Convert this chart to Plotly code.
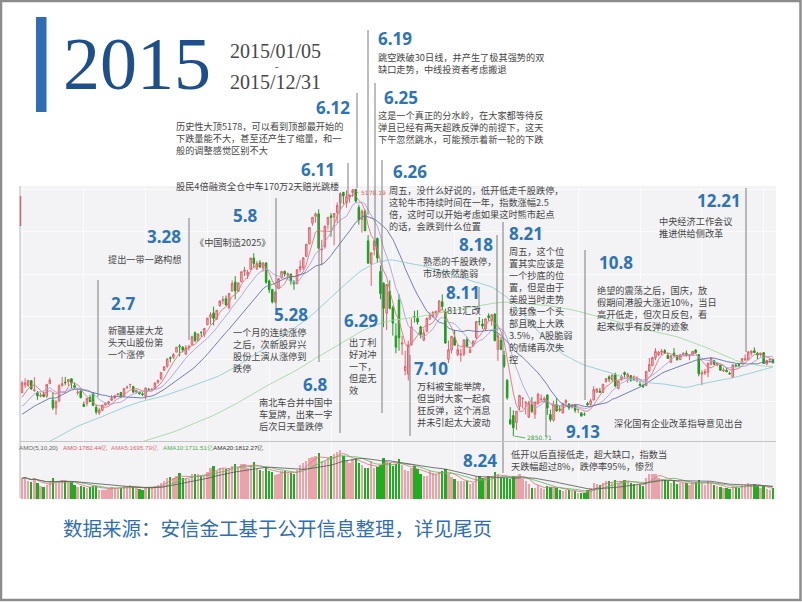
import plotly.graph_objects as go
import pandas as pd

# ---------------- DATA (Shanghai Composite 2015, daily, estimated) ----------------
OPEN = [
 3258.63, 3330.80, 3326.65, 3371.96, 3276.97, 3258.21, 3223.54, 3242.34, 3224.07, 3343.60, 3189.73, 3114.56, 3182.11, 3327.33, 3357.10, 3359.44, 3389.85, 3325.72, 3258.09, 3273.81,
 3148.14, 3156.09, 3212.82, 3254.01, 3120.09, 3066.86, 3090.96, 3141.85, 3156.22, 3186.81, 3209.16, 3238.13, 3259.76, 3228.33, 3307.66,
 3332.72, 3317.70, 3264.18, 3264.08, 3248.03, 3224.33, 3289.10, 3287.15, 3290.72, 3357.64, 3391.16, 3469.66, 3506.31, 3588.52, 3590.72, 3640.21, 3697.53, 3687.37, 3620.07, 3680.50, 3710.62, 3822.67,
 3748.34, 3827.65, 3803.96, 3899.35, 3966.48, 4009.96, 3950.06, 4077.30, 4125.04, 4143.28, 4058.60, 4214.81, 4301.35, 4212.19, 4304.28, 4401.27, 4370.97, 4420.20, 4527.59, 4426.38, 4483.85,
 4432.60, 4479.83, 4311.30, 4229.89, 4112.52, 4242.45, 4342.25, 4401.52, 4364.55, 4375.98, 4298.26, 4283.86, 4421.88, 4434.01, 4542.27, 4661.18, 4854.85, 4920.30, 4943.74, 4603.48,
 4633.10, 4844.70, 4924.80, 4912.95, 4956.90, 5045.69, 5145.98, 5049.20, 5101.44, 5143.34, 5174.42, 5004.13, 4890.47, 4967.34, 4689.93, 4471.61, 4604.95, 4711.76, 4399.93, 4289.77, 4006.75,
 4214.15, 4058.88, 3793.60, 4132.61, 3716.38, 3467.38, 3432.45, 3707.46, 3976.79, 3959.11, 3877.38, 3752.65, 3834.38, 3952.40, 3978.86, 4002.17, 4019.73, 4114.38, 4026.14, 3573.14, 3659.59, 3776.22, 3616.94,
 3614.80, 3621.86, 3756.86, 3635.71, 3699.47, 3776.56, 3928.03, 3905.66, 3859.01, 3982.81, 3943.16, 3999.13, 3666.34, 3752.02, 3609.96, 3373.48, 3004.17, 3042.93, 2978.03, 3125.25, 3203.88,
 3157.65, 3027.68, 3149.38, 3054.44, 3161.32, 3190.55, 3189.48, 3237.46, 3052.84, 2998.46, 3146.20, 3102.92, 3067.41, 3161.68, 3151.00, 3122.72, 3143.76, 3097.28, 3068.37, 3052.84,
 3156.08, 3147.32, 3188.42, 3262.44, 3273.31, 3259.68, 3365.60, 3407.57, 3377.58, 3431.68, 3298.63, 3387.96, 3448.12, 3409.21, 3420.09, 3387.39, 3368.97,
 3337.56, 3325.62, 3325.57, 3462.64, 3514.60, 3588.50, 3614.76, 3635.91, 3654.49, 3609.00, 3543.26, 3631.81, 3607.50, 3569.75, 3616.06, 3630.87, 3602.89, 3614.05, 3659.57, 3616.54, 3433.81,
 3442.44, 3450.28, 3525.73, 3558.15, 3517.71, 3518.65, 3462.58, 3469.13, 3441.60, 3403.51, 3518.40, 3522.97, 3533.63, 3564.66, 3568.58, 3631.31, 3653.28, 3631.50, 3614.05, 3635.77, 3528.40, 3566.73, 3570.47,
]
HIGH = [
 3369.28, 3394.22, 3374.90, 3373.41, 3404.83, 3275.19, 3259.39, 3268.48, 3336.46, 3400.18, 3262.21, 3190.25, 3337.00, 3406.79, 3406.79, 3384.80, 3390.22, 3354.71, 3286.30, 3288.50,
 3174.97, 3209.93, 3238.95, 3260.34, 3143.10, 3116.39, 3142.30, 3166.92, 3181.77, 3237.16, 3237.25, 3253.20, 3259.76, 3300.11, 3324.55,
 3336.76, 3317.70, 3286.59, 3266.93, 3263.00, 3307.50, 3303.46, 3303.49, 3355.54, 3381.98, 3449.31, 3503.13, 3577.66, 3600.68, 3632.34, 3688.25, 3715.87, 3697.56, 3707.32, 3709.99, 3795.94, 3835.57,
 3817.08, 3835.15, 3864.71, 3961.38, 4016.85, 4069.29, 4034.88, 4128.07, 4168.35, 4173.42, 4195.22, 4317.05, 4356.00, 4293.62, 4400.20, 4444.41, 4416.42, 4529.60, 4572.39, 4499.98, 4507.84,
 4488.53, 4489.73, 4323.82, 4236.56, 4213.13, 4333.58, 4402.16, 4409.54, 4391.43, 4380.00, 4319.62, 4417.62, 4505.80, 4529.42, 4658.27, 4814.67, 4911.16, 4958.16, 4986.50, 4698.19,
 4829.50, 4910.53, 4951.17, 4947.10, 5051.63, 5146.99, 5147.45, 5164.82, 5122.46, 5178.19, 5176.79, 5029.68, 4985.89, 4983.64, 4744.08, 4577.94, 4691.77, 4720.74, 4456.90, 4297.47, 4279.92,
 4317.05, 4080.14, 3913.78, 4184.45, 3794.73, 3652.45, 3748.48, 3959.22, 4030.20, 4035.43, 3888.76, 3862.27, 3969.46, 4013.00, 4024.47, 4029.53, 4127.97, 4184.45, 4051.24, 3750.18, 3792.96, 3851.10, 3710.57,
 3668.98, 3757.06, 3782.35, 3693.64, 3749.82, 3929.83, 3970.34, 3952.99, 3955.09, 4006.34, 3994.54, 4006.34, 3811.75, 3783.55, 3652.84, 3388.36, 3122.12, 3092.10, 3085.42, 3237.66, 3214.63,
 3180.87, 3182.02, 3217.34, 3174.71, 3256.74, 3243.28, 3223.76, 3239.67, 3099.33, 3182.93, 3207.53, 3137.60, 3158.11, 3196.43, 3160.19, 3152.35, 3151.60, 3102.61, 3069.61, 3073.35,
 3172.30, 3200.84, 3318.71, 3298.62, 3303.38, 3338.57, 3394.19, 3421.53, 3425.97, 3447.27, 3369.88, 3429.47, 3457.95, 3447.14, 3421.24, 3419.71, 3411.59,
 3370.76, 3344.91, 3459.64, 3585.66, 3596.38, 3678.27, 3648.42, 3670.47, 3669.20, 3636.36, 3607.62, 3678.27, 3615.94, 3617.26, 3640.54, 3654.75, 3616.48, 3648.37, 3668.38, 3621.90, 3470.38,
 3483.41, 3538.85, 3591.73, 3568.97, 3543.84, 3518.65, 3495.70, 3495.40, 3456.53, 3521.78, 3529.96, 3538.69, 3583.41, 3618.64, 3651.06, 3652.63, 3684.57, 3640.22, 3632.07, 3641.59, 3564.17, 3573.68, 3580.60,
]
LOW = [
 3253.88, 3303.18, 3312.21, 3285.10, 3267.51, 3191.58, 3214.41, 3214.88, 3207.55, 3340.73, 3095.07, 3049.11, 3166.47, 3313.79, 3327.29, 3321.56, 3297.88, 3294.89, 3234.24, 3209.19,
 3122.57, 3129.96, 3170.47, 3136.25, 3052.94, 3049.11, 3084.25, 3137.41, 3141.13, 3181.36, 3196.83, 3232.25, 3206.38, 3221.91, 3291.89,
 3298.67, 3260.43, 3250.48, 3238.99, 3226.16, 3193.99, 3277.71, 3272.46, 3286.40, 3341.08, 3377.14, 3460.91, 3493.55, 3544.72, 3573.88, 3640.21, 3600.19, 3637.69, 3617.12, 3656.69, 3710.62, 3733.98,
 3742.21, 3784.01, 3780.15, 3892.70, 3900.08, 3891.65, 3950.06, 4068.68, 4091.04, 4080.19, 4043.86, 4214.81, 4137.91, 4209.79, 4299.11, 4358.28, 4330.46, 4419.60, 4432.90, 4413.60, 4439.42,
 4399.39, 4284.82, 4197.06, 4099.54, 4099.17, 4237.45, 4331.36, 4351.84, 4334.04, 4276.30, 4227.97, 4283.86, 4390.67, 4415.09, 4542.27, 4656.82, 4831.37, 4861.35, 4614.24, 4459.12,
 4615.04, 4797.55, 4727.32, 4647.79, 4856.31, 4992.38, 5034.63, 5001.46, 5050.76, 5103.40, 5048.74, 4842.10, 4767.14, 4780.73, 4476.50, 4264.77, 4552.63, 4483.15, 4139.53, 3875.05, 3847.88,
 4043.13, 3795.25, 3629.56, 3653.04, 3611.72, 3421.53, 3373.54, 3707.46, 3919.20, 3900.51, 3769.89, 3743.75, 3827.88, 3943.56, 3966.48, 3963.55, 4013.80, 4035.99, 3720.38, 3537.36, 3628.64, 3704.24, 3600.59,
 3549.14, 3602.59, 3685.49, 3632.00, 3694.19, 3765.56, 3891.40, 3858.75, 3839.35, 3936.41, 3889.42, 3743.37, 3558.38, 3663.77, 3490.54, 3191.88, 2952.84, 2850.71, 2906.44, 3094.04, 3109.34,
 3053.76, 3019.14, 3066.30, 3011.76, 3140.74, 3178.84, 3163.46, 3049.23, 2983.92, 2985.11, 3079.55, 3077.67, 3062.63, 3138.40, 3095.07, 3109.04, 3069.72, 3065.37, 3033.40, 3039.74,
 3134.12, 3134.68, 3188.42, 3261.26, 3255.74, 3254.80, 3350.06, 3357.19, 3364.63, 3313.42, 3289.18, 3369.87, 3394.39, 3351.39, 3360.97, 3368.46, 3357.36,
 3320.54, 3302.37, 3322.28, 3453.37, 3508.79, 3564.57, 3602.45, 3613.40, 3624.24, 3576.63, 3543.26, 3601.82, 3560.43, 3566.86, 3604.48, 3598.87, 3563.71, 3607.52, 3629.86, 3412.43, 3327.81,
 3426.76, 3403.71, 3518.28, 3523.43, 3506.38, 3466.79, 3454.88, 3454.12, 3428.84, 3399.28, 3495.96, 3497.29, 3533.63, 3567.63, 3565.75, 3607.29, 3633.03, 3572.53, 3598.26, 3533.08, 3515.52, 3538.11, 3538.35,
]
CLOSE = [
 3350.52, 3351.45, 3373.95, 3293.46, 3285.41, 3229.32, 3235.30, 3222.44, 3336.45, 3376.50, 3116.35, 3173.05, 3323.61, 3343.34, 3351.76, 3383.18, 3352.96, 3305.74, 3262.30, 3210.36,
 3128.30, 3204.91, 3174.13, 3136.53, 3075.91, 3095.12, 3141.59, 3157.70, 3173.42, 3203.83, 3228.84, 3246.91, 3228.84, 3298.36, 3310.30,
 3336.28, 3263.05, 3279.53, 3248.48, 3241.19, 3302.41, 3286.07, 3290.90, 3349.32, 3372.91, 3449.30, 3502.85, 3577.30, 3582.27, 3617.32, 3687.73, 3691.41, 3660.73, 3682.09, 3691.10, 3786.57, 3747.90,
 3810.29, 3825.78, 3863.93, 3961.38, 3994.81, 3957.53, 4034.31, 4121.71, 4135.57, 4084.16, 4194.82, 4287.30, 4217.08, 4293.62, 4398.49, 4414.51, 4393.69, 4527.40, 4476.21, 4476.62, 4441.66,
 4480.46, 4298.71, 4229.27, 4112.21, 4205.92, 4333.58, 4401.22, 4375.76, 4378.31, 4308.69, 4283.49, 4417.55, 4446.29, 4529.42, 4657.60, 4813.80, 4910.90, 4941.71, 4620.27, 4611.74,
 4828.74, 4910.53, 4909.98, 4947.10, 5023.10, 5131.88, 5113.53, 5106.04, 5121.59, 5166.35, 5062.99, 4887.43, 4967.90, 4785.36, 4478.36, 4576.49, 4690.15, 4527.78, 4192.87, 4053.03, 4277.22,
 4053.70, 3912.77, 3686.92, 3775.91, 3727.13, 3507.19, 3709.33, 3877.80, 3970.39, 3924.49, 3805.70, 3823.18, 3957.35, 3992.11, 4017.67, 4026.04, 4123.92, 4070.91, 3725.56, 3663.00, 3789.17, 3705.77, 3663.73,
 3622.91, 3756.54, 3694.57, 3661.54, 3744.20, 3928.42, 3927.91, 3886.32, 3954.56, 3965.33, 3993.67, 3748.16, 3794.11, 3664.29, 3507.74, 3209.91, 2964.97, 2927.29, 3083.59, 3232.35, 3205.99,
 3166.62, 3160.17, 3080.42, 3170.45, 3243.09, 3197.89, 3200.23, 3114.80, 3005.17, 3152.26, 3086.06, 3097.92, 3156.54, 3185.62, 3115.89, 3142.69, 3092.35, 3100.76, 3038.14, 3052.78,
 3143.36, 3183.15, 3287.66, 3293.23, 3262.44, 3338.07, 3391.35, 3386.70, 3425.33, 3320.68, 3368.74, 3412.43, 3429.58, 3434.34, 3375.20, 3387.32, 3382.56,
 3325.08, 3316.70, 3459.64, 3522.82, 3590.03, 3646.88, 3640.49, 3650.25, 3632.90, 3580.84, 3606.96, 3604.80, 3568.47, 3617.06, 3630.50, 3610.31, 3616.11, 3647.93, 3635.55, 3436.30, 3445.40,
 3456.31, 3536.91, 3584.82, 3524.99, 3536.93, 3470.07, 3472.44, 3455.50, 3434.58, 3520.67, 3510.35, 3516.19, 3580.00, 3578.96, 3642.47, 3651.77, 3636.09, 3612.49, 3627.91, 3533.78, 3563.74, 3572.88, 3539.18,
]
# turnover (亿)
VOLUME = [
 3300, 3500, 2900, 2700, 3400, 2600, 2100, 1900, 2300, 2800, 3400, 2600, 2800, 3100, 2900, 2500, 2700, 2300, 1900, 2000,
 1900, 1800, 1900, 2000, 2000, 1500, 1500, 1500, 1600, 1900, 1800, 1600, 1700, 2000, 2100,
 2200, 2100, 1800, 1600, 1500, 1900, 1800, 1700, 2100, 2200, 2600, 2900, 3400, 3500, 3400, 3700, 4100, 3400, 3300, 3200, 3900, 3900,
 3900, 3700, 3700, 4300, 4900, 5300, 4500, 4900, 5000, 4800, 4900, 5300, 5600, 4900, 5600, 5500, 5000, 5400, 5900, 4900, 4600,
 4500, 5100, 4500, 4300, 3800, 4000, 4500, 4500, 4200, 4100, 3900, 4600, 5400, 5700, 6000, 6500, 6700, 6800, 7300, 6000,
 6100, 6600, 6800, 7100, 7500, 7800, 6800, 6200, 5700, 6300, 6500, 5700, 5400, 4900, 5000, 6000, 4900, 5100, 5400, 6600, 6000,
 5800, 5200, 5500, 6300, 5400, 4600, 4500, 4900, 5200, 4700, 3900, 3700, 3600, 4400, 4100, 3900, 4300, 4500, 4700, 3900, 3500, 3200, 2900,
 2800, 2800, 2900, 2400, 2500, 3700, 3600, 3300, 3400, 3600, 3700, 4300, 4000, 3300, 3300, 3400, 3200, 3600, 3700, 3900, 3200,
 2900, 2400, 1700, 1800, 2200, 1800, 1600, 2000, 1900, 1900, 1800, 1400, 1300, 1500, 1400, 1300, 1200, 1000, 950, 900,
 1500, 1700, 2500, 2400, 2200, 2500, 2900, 2800, 2600, 3100, 2600, 2800, 3000, 2900, 2600, 2400, 2300,
 2200, 2000, 3300, 3900, 4000, 3900, 3400, 3200, 3100, 2900, 2600, 2800, 2400, 2500, 2600, 2500, 2300, 2500, 2700, 3000, 2500,
 2200, 2800, 2600, 2200, 2000, 1900, 1800, 1700, 1600, 2100, 1900, 1800, 2200, 2300, 2500, 2400, 2400, 2000, 1800, 2000, 1600, 1500, 1782.44,
]
# late-2014 closes, only used to warm up the moving averages
HIST_CLOSE_2014 = [
 2050, 2060, 2060, 2059, 2067, 2039, 2040, 2047, 2066, 2071, 2058, 2055, 2056, 2059, 2075, 2083, 2127, 2160, 2177, 2178, 2182, 2201, 2202,
 2185, 2223, 2217, 2188, 2195, 2222, 2223, 2223, 2213, 2226, 2240, 2248, 2240, 2245, 2240, 2230, 2235, 2229, 2195, 2200, 2217,
 2235, 2266, 2288, 2306, 2326, 2334, 2325, 2344, 2332, 2291, 2316, 2329, 2307, 2290, 2343, 2345, 2350, 2347, 2357, 2363, 2364,
 2382, 2390, 2374, 2389, 2366, 2374, 2373, 2341, 2356, 2339, 2326, 2302, 2302, 2302, 2330, 2373, 2391, 2420,
 2430, 2419, 2425, 2419, 2418, 2474, 2469, 2494, 2485, 2478, 2474, 2454, 2450, 2452, 2486, 2532, 2567, 2604, 2630, 2683,
 2680, 2763, 2779, 2899, 2938, 3020, 2856, 2940, 2925, 2938, 2953, 3021, 3061, 3108, 3128, 3032, 3034, 2973, 3072, 3157, 3168, 3166, 3234,
]
MA_PERIODS = [5, 10, 20, 60, 120]
AMA_PERIODS = [5, 10, 20]
VOL_LEGEND = ["AMO(5,10,20)", "AMO:1782.44亿", "AMA5:1695.79亿", "AMA10:1711.51亿", "AMA20:1812.27亿"]

TITLE = "2015"
DATE_FROM = "2015/01/05"
DATE_TO = "2015/12/31"
SOURCE = "数据来源：安信金工基于公开信息整理，详见尾页"

# ---------------- styles / layout helpers ----------------
W, H = 802, 602
def px(x): return x / W
def py(y): return 1 - y / H

BODY = "Noto Sans CJK SC, Noto Sans, sans-serif"
TFONT = "Open Sans, Noto Sans, sans-serif"
SERIF = "Liberation Serif, DejaVu Serif, serif"
BLUE_T = "#2e74b5"
TXT = "#454545"
VLINE = "#7d7d7d"
BODY_SIZE = 9.2
LINE_GAP = 1.3 * BODY_SIZE

MA_COLORS = {5: "#e8707e", 10: "#ab9fda", 20: "#6470aa", 60: "#8ccfd7", 120: "#a3d9a3"}
AMA_COLORS = {5: "#e0707e", 10: "#5cb85c", 20: "#555555"}
LEG_COLORS = ["#666666", "#e05565", "#e06a7a", "#4cb04c", "#333333"]

n = len(CLOSE)
idx = list(range(n))

closes_all = pd.Series(HIST_CLOSE_2014 + CLOSE, dtype=float)
vol = pd.Series(VOLUME, dtype=float)

fig = go.Figure()

fig.add_trace(go.Candlestick(
    x=idx, open=OPEN, high=HIGH, low=LOW, close=CLOSE,
    increasing=dict(line=dict(color="#e0606a", width=1), fillcolor="#f6c4c8"),
    decreasing=dict(line=dict(color="#1c9e1c", width=1), fillcolor="#1c9e1c"),
    whiskerwidth=0, xaxis="x", yaxis="y", hoverinfo="skip"))

for p in MA_PERIODS:
    ma = closes_all.rolling(p).mean().iloc[-n:].tolist()
    fig.add_trace(go.Scatter(x=idx, y=ma, mode="lines", line=dict(color=MA_COLORS[p], width=0.9),
                             xaxis="x", yaxis="y", hoverinfo="skip"))

bar_colors = ["#eaa3a8" if c >= o else "#1fae1f" for o, c in zip(OPEN, CLOSE)]
fig.add_trace(go.Bar(x=idx, y=VOLUME, marker=dict(color=bar_colors, line=dict(width=0)), width=0.75,
                     xaxis="x2", yaxis="y2", hoverinfo="skip"))
for p in AMA_PERIODS:
    ama = vol.rolling(p, min_periods=1).mean().tolist()
    fig.add_trace(go.Scatter(x=idx, y=ama, mode="lines", line=dict(color=AMA_COLORS[p], width=0.8),
                             xaxis="x2", yaxis="y2", hoverinfo="skip"))

annotations = []
shapes = []

def label(text, x, y, size, color, family=BODY, anchor="left", bold=False, align="left"):
    annotations.append(dict(text=(f"<b>{text}</b>" if bold else text), x=px(x), y=py(y),
                            xref="paper", yref="paper", xanchor=anchor, yanchor="middle", align=align,
                            showarrow=False, borderpad=0, font=dict(size=size, color=color, family=family)))

def vline(x, y0, y1, color=VLINE, width=1):
    shapes.append(dict(type="line", xref="paper", yref="paper", x0=px(x), x1=px(x),
                       y0=py(y0), y1=py(y1), line=dict(color=color, width=width)))

# event notes: (title, title_left, title_cy, lines, lines_left, first_line_cy, vertical line)
NOTES = [
    ("6.19", 377, 38.5, ["跳空跌破30日线，并产生了极其强势的双", "缺口走势，中线投资者考虑搬退"], 377, 57.5, (368, 30, 215)),
    ("6.25", 383, 97, ["这是一个真正的分水岭，在大家都等待反", "弹且已经有两天超跌反弹的前提下，这天", "下午忽然跳水，可能预示着新一轮的下跌"], 377, 115, (375, 83, 247)),
    ("6.26", 392, 171.5, ["周五，没什么好说的，低开低走千股跌停，", "这轮牛市持续时间在一年，指数涨幅2.5", "倍，这时可以开始考虑如果这时熊市起点", "的话，会跌到什么位置"], 388, 190, (382, 160, 413)),
    ("6.12", 315, 107, ["历史性大顶5178，可以看到顶部最开始的", "下跌量能不大，甚至还产生了缩量，和一", "般的调整感觉区别不大"], 175, 126, (357, 93, 188)),
    ("6.11", 300, 169.5, ["股民4倍融资全仓中车170万2天赔光跳楼"], 175, 186, (348, 163, 196)),
    ("5.8", 232, 215, ["《中国制造2025》"], 194, 242, (276, 198, 310)),
    ("3.28", 146, 237, ["提出一带一路构想"], 107, 259, (189, 218, 340)),
    ("2.7", 110, 303, ["新疆基建大龙", "头天山股份第", "一个涨停"], 107, 330, (98, 280, 397)),
    ("5.28", 273, 314, ["一个月的连续涨停", "之后，次新股昇兴", "股份上演从涨停到", "跌停"], 232, 332, (319, 217, 362)),
    ("6.8", 302, 384, ["南北车合并中国中", "车复牌，出来一字", "后次日天量跌停"], 258, 402, (340, 193, 433)),
    ("6.29", 343, 320, ["出了利", "好对冲", "一下，", "但是无", "效"], 348, 342.5, None),
    ("7.10", 413, 368.5, ["万科被宝能举牌，", "但当时大家一起疯", "狂反弹，这个消息", "并未引起太大波动"], 416, 386, (410, 355, 436)),
    ("8.18", 458, 244, ["熟悉的千股跌停，", "市场依然脆弱"], 422, 261, (497, 235, 337)),
    ("8.11", 445, 292.5, ["811汇改"], 446, 310, (479, 287, 313)),
    ("8.21", 508, 233.5, ["周五，这个位", "置其实应该是", "一个抄底的位", "置，但是由于", "美股当时走势", "极其像一个头", "部且晚上大跌", "3.5%，A股脆弱", "的情绪再次失", "控"],
     508, 251, (503, 222, 473)),
    ("8.24", 462, 460.5, ["低开以后直接低走，超大缺口，指数当", "天跌幅超过8%，跌停率95%，惨烈"], 510, 454, None),
    ("9.13", 565, 431, ["深化国有企业改革指导意见出台"], 613, 423, (546, 398, 437)),
    ("10.8", 598, 262, ["绝望的震荡之后，国庆，放", "假期间港股大涨近10%，当日", "高开低走，但次日反包，看", "起来似乎有反弹的迹象"], 596, 290, (585, 250, 400)),
    ("12.21", 696, 200.5, ["中央经济工作会议", "推进供给侧改革"], 658, 221, (746, 188, 352)),
]

for title, tx, ty, lines, lx, ly0, vl in NOTES:
    if vl:
        vline(*vl)
    label(title, tx, ty, 17, BLUE_T, family=TFONT, bold=True)
    cy = ly0 + (len(lines) - 1) * LINE_GAP / 2
    label("<br>".join(lines), lx, cy, BODY_SIZE, TXT)

# header
shapes.append(dict(type="rect", xref="paper", yref="paper", x0=px(36), x1=px(46.5), y0=py(112), y1=py(17),
                   fillcolor="#2f6db4", line=dict(width=0)))
label(TITLE, 62, 64, 74, "#1e4f8d", family=SERIF)
label(DATE_FROM, 229, 51, 20, "#474747", family=SERIF)
label("-", 276, 66.5, 10, "#474747", family=SERIF, anchor="center")
label(DATE_TO, 229, 82, 20, "#474747", family=SERIF)

# volume legend
leg_x = [18, 62, 110, 162, 212]
for t, x, c in zip(VOL_LEGEND, leg_x, LEG_COLORS):
    label(t, x, 447, 6.2, c, family="Liberation Sans, Arial, sans-serif")

# footer
label(SOURCE, 62, 527, 19.5, "#2f6db4")

# extreme labels from data
imax = max(range(n), key=lambda i: HIGH[i])
imin = min(range(n), key=lambda i: LOW[i])
annotations.append(dict(x=imax, y=HIGH[imax], xref="x", yref="y", text=f"{HIGH[imax]:.2f}", showarrow=True,
                        arrowhead=0, arrowwidth=0.8, arrowcolor="#e06060", ax=6, ay=4, xanchor="left",
                        font=dict(size=6, color="#e06060", family="DejaVu Sans"), standoff=1))
annotations.append(dict(x=imin, y=LOW[imin], xref="x", yref="y", text=f"{LOW[imin]:.2f}", showarrow=True,
                        arrowhead=0, arrowwidth=0.8, arrowcolor="#3aa03a", ax=12, ay=2, xanchor="left",
                        font=dict(size=6, color="#3aa03a", family="DejaVu Sans"), standoff=1))

# panel decorations
shapes.append(dict(type="line", xref="paper", yref="paper", x0=px(20), x1=px(776), y0=py(441.5), y1=py(441.5),
                   line=dict(color="#c4c4c8", width=1)))
vline(20, 186, 498, color="#b8b8bc")
vline(20.5, 196, 226, color="#e06070", width=1.5)
# outer frame
shapes.append(dict(type="rect", xref="paper", yref="paper", x0=px(1), x1=px(800.5), y0=py(600), y1=py(1),
                   line=dict(color="#8c8c8c", width=2.5), fillcolor="rgba(0,0,0,0)"))

x_range = [-0.65, 244.0]
fig.update_layout(
    width=W, height=H, margin=dict(l=0, r=0, t=0, b=0),
    paper_bgcolor="white", plot_bgcolor="#f3f3f5", showlegend=False,
    xaxis=dict(domain=[px(20), px(776)], range=x_range, showticklabels=False, showgrid=True,
               gridcolor="#fbfbfc", dtick=20, tick0=0, zeroline=False, rangeslider=dict(visible=False),
               anchor="y", fixedrange=True),
    yaxis=dict(domain=[py(441), py(186)], range=[2803, 5206], showticklabels=False, showgrid=True,
               gridcolor="#fbfbfc", dtick=400, tick0=4773, zeroline=False, fixedrange=True),
    xaxis2=dict(domain=[px(20), px(776)], range=x_range, matches="x", showticklabels=False, showgrid=True,
                gridcolor="#fbfbfc", dtick=20, tick0=0, zeroline=False, anchor="y2", fixedrange=True),
    yaxis2=dict(domain=[py(499), py(442)], range=[0, 9070], showticklabels=False, showgrid=False,
                zeroline=False, fixedrange=True),
    annotations=annotations, shapes=shapes, bargap=0,
)

fig.write_html("out.html")
